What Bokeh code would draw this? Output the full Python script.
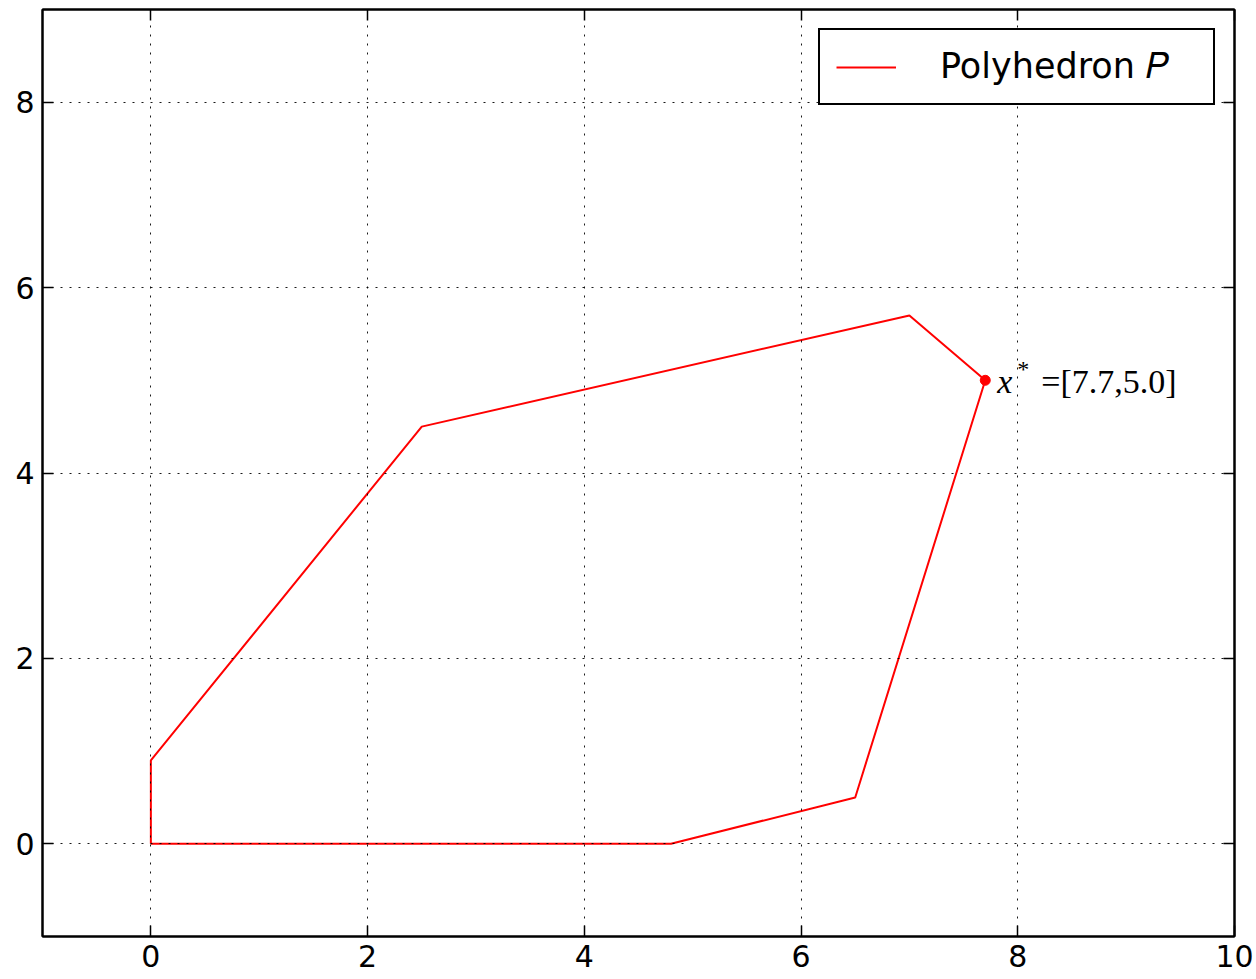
from bokeh.plotting import figure
from bokeh.models import Range1d, FixedTicker, LinearAxis, Legend, LegendItem
from bokeh.core.properties import value
from bokeh.embed import file_html
from bokeh.resources import INLINE

# ---- data ----
poly_x = [0.0, 4.8, 6.5, 7.7, 7.0, 2.5, 0.0, 0.0]
poly_y = [0.0, 0.0, 0.5, 5.0, 5.7, 4.5, 0.9, 0.0]
opt_x = 7.7
opt_y = 5.0
x_ticks = [0, 2, 4, 6, 8, 10]
y_ticks = [0, 2, 4, 6, 8]
legend_label = "Polyhedron 𝑃"
opt_label = "=[{},{}]".format(opt_x, opt_y)

p = figure(width=1254, height=978,
           x_range=Range1d(-1, 10), y_range=Range1d(-1, 9),
           output_backend="svg", toolbar_location=None,
           min_border_left=42, min_border_right=20,
           min_border_top=9, min_border_bottom=42)
p.background_fill_color = "white"
p.border_fill_color = "white"
p.outline_line_color = "black"
p.outline_line_width = 2

p.add_layout(LinearAxis(), "above")
p.add_layout(LinearAxis(), "right")

for ax in p.xaxis:
    ax.ticker = FixedTicker(ticks=x_ticks)
for ax in p.yaxis:
    ax.ticker = FixedTicker(ticks=y_ticks)
for ax in p.axis:
    ax.major_tick_in = 11
    ax.major_tick_out = 0
    ax.minor_tick_line_color = None
    ax.axis_line_color = "black"
    ax.axis_line_width = 2
    ax.major_tick_line_color = "black"
    ax.major_tick_line_width = 1.5
    ax.major_label_text_font = "DejaVu Sans"
    ax.major_label_text_font_size = "30px"
    ax.major_label_text_color = "black"
    ax.major_label_standoff = 8
for ax in list(p.above) + list(p.right):
    ax.major_label_text_font_size = "0px"
    ax.major_label_standoff = 0

for g in (p.xgrid[0], p.ygrid[0]):
    g.grid_line_color = "black"
    g.grid_line_width = 1
    g.grid_line_dash = "2 7"
    g.grid_line_alpha = 0.9
    g.level = "guide"

r = p.line(poly_x, poly_y, line_color="#ff0000", line_width=2)
p.scatter([opt_x], [opt_y], size=10, color="#ff0000")

p.text(x=[opt_x], y=[opt_y], text=["x"], x_offset=12, y_offset=1,
       text_font=value("Liberation Serif"), text_font_style="italic",
       text_font_size="34px", text_baseline="alphabetic", text_color="black")
p.text(x=[opt_x], y=[opt_y], text=["*"], x_offset=32, y_offset=-11,
       text_font=value("Liberation Serif"),
       text_font_size="24px", text_baseline="alphabetic", text_color="black")
p.text(x=[opt_x], y=[opt_y], text=[opt_label], x_offset=56, y_offset=1,
       text_font=value("Liberation Serif"),
       text_font_size="34px", text_baseline="alphabetic", text_color="black")

legend = Legend(items=[LegendItem(label=legend_label, renderers=[r])],
                location="top_right", margin=19, padding=16,
                glyph_width=60, glyph_height=20, label_standoff=44,
                label_width=257,
                label_text_font="DejaVu Sans", label_text_font_size="35px",
                label_text_color="black",
                border_line_color="black", border_line_width=2,
                border_line_alpha=1.0,
                background_fill_color="white", background_fill_alpha=1.0)
p.add_layout(legend)

open("out.html", "w").write(file_html(p, INLINE))
